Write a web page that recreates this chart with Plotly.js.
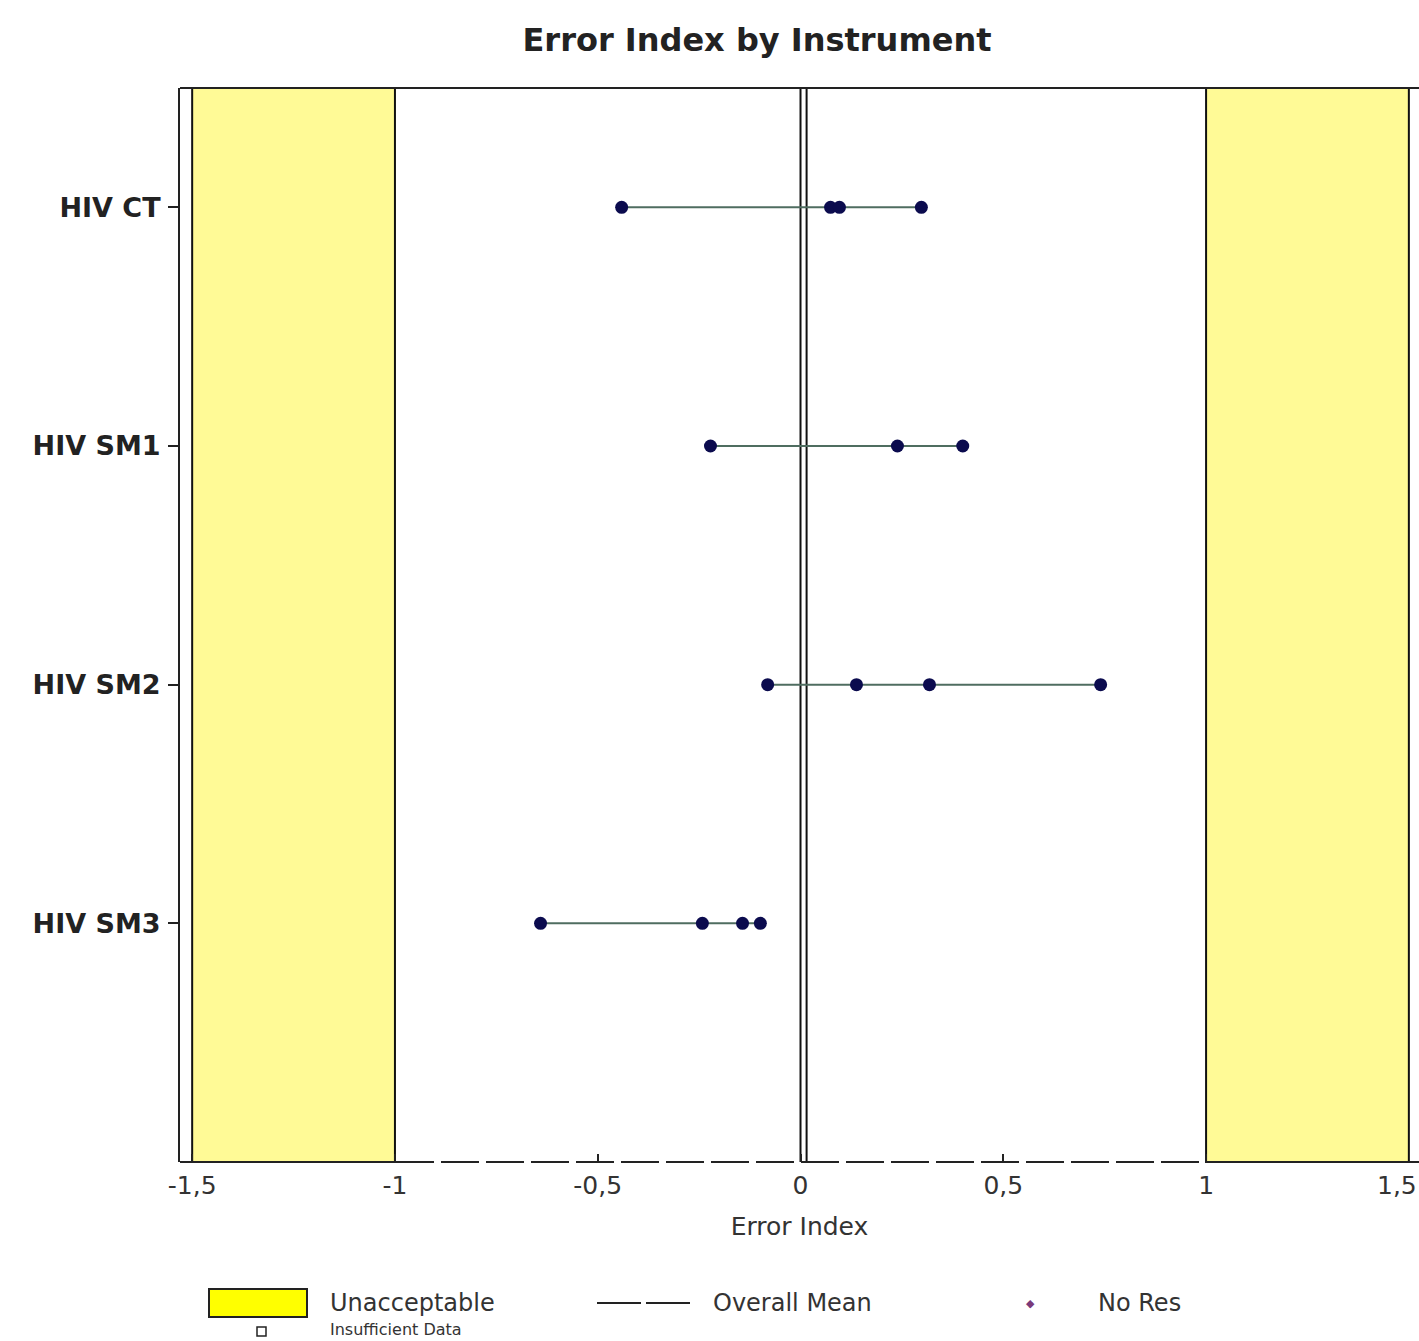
<!DOCTYPE html>
<html>
<head>
<meta charset="utf-8">
<script src="https://cdn.plot.ly/plotly-3.0.1.min.js"></script>
<style>
  html, body { margin: 0; padding: 0; background: #ffffff; }
  #chart { width: 1419px; height: 1341px; }
</style>
</head>
<body>
<div id="chart"></div>
<script>
// ---- Data ----
const instruments = ["HIV CT", "HIV SM1", "HIV SM2", "HIV SM3"];
const hivCT  = [-0.441, 0.074, 0.096, 0.298];
const hivSM1 = [-0.222, 0.239, 0.400];
const hivSM2 = [-0.081, 0.138, 0.318, 0.740];
const hivSM3 = [-0.641, -0.242, -0.143, -0.099];
const seriesValues = [hivCT, hivSM1, hivSM2, hivSM3];
const overallMean = 0.015;
const unacceptableLow = [-1.5, -1.0];
const unacceptableHigh = [1.0, 1.5];
const xTickVals = [-1.5, -1, -0.5, 0, 0.5, 1];
const xTickText = ["-1,5", "-1", "-0,5", "0", "0,5", "1"];
const xEdgeTickText = "1,5";
const legendLabels = ["Unacceptable", "Overall Mean", "No Res", "Insufficient Data"];

// ---- Layout helpers ----
const W = 1419, H = 1341;
const M = { l: 180, r: 0, t: 88, b: 179 };
const PW = W - M.l - M.r, PH = H - M.t - M.b;
const px = x => (x - M.l) / PW;          // pixel -> paper x
const py = y => (M.t + PH - y) / PH;     // pixel -> paper y

const FONT = "DejaVu Sans, Liberation Sans, Arial, sans-serif";
const ROW1 = 1303;

const traces = instruments.map((name, i) => ({
  type: "scatter",
  mode: "lines+markers",
  x: seriesValues[i],
  y: seriesValues[i].map(() => name),
  line: { color: "#4f6d60", width: 2 },
  marker: { color: "#0b0b4e", size: 13 },
  showlegend: false,
  hoverinfo: "x+y"
}));

const shapes = [
  // unacceptable bands
  { type: "rect", layer: "below", xref: "x", yref: "paper",
    x0: unacceptableLow[0], x1: unacceptableLow[1], y0: 0, y1: 1,
    fillcolor: "#fffa96", line: { color: "#111", width: 2 } },
  { type: "rect", layer: "below", xref: "x", yref: "paper",
    x0: unacceptableHigh[0], x1: unacceptableHigh[1], y0: 0, y1: 1,
    fillcolor: "#fffa96", line: { color: "#111", width: 2 } },
  // zero line
  { type: "line", layer: "below", xref: "x", yref: "paper", x0: 0, x1: 0, y0: 0, y1: 1,
    line: { color: "#111", width: 2 } },
  // overall mean
  { type: "line", layer: "below", xref: "x", yref: "paper", x0: overallMean, x1: overallMean, y0: 0, y1: 1,
    line: { color: "#111", width: 2 } },
  // top border
  { type: "line", xref: "paper", yref: "paper", x0: 0, x1: 1, y0: 1, y1: 1,
    line: { color: "#222", width: 2 } },
  // bottom border: solid at the bands, dashed in the middle
  { type: "line", xref: "paper", yref: "paper", x0: 0, x1: px(396), y0: 0, y1: 0,
    line: { color: "#222", width: 2 } },
  { type: "line", xref: "paper", yref: "paper", x0: px(396), x1: px(1207), y0: 0, y1: 0,
    line: { color: "#222", width: 2, dash: "38px,7px" } },
  { type: "line", xref: "paper", yref: "paper", x0: px(1207), x1: 1, y0: 0, y1: 0,
    line: { color: "#222", width: 2 } },
  // legend: yellow box
  { type: "rect", xref: "paper", yref: "paper",
    x0: px(209), x1: px(307), y0: py(ROW1 + 14), y1: py(ROW1 - 14),
    fillcolor: "#ffff00", line: { color: "#222", width: 2 } },
  // legend: mean line
  { type: "line", xref: "paper", yref: "paper",
    x0: px(597), x1: px(693), y0: py(ROW1), y1: py(ROW1),
    line: { color: "#222", width: 2, dash: "44px,5px" } },
  // legend: insufficient data square
  { type: "rect", xref: "paper", yref: "paper",
    x0: px(257), x1: px(266), y0: py(1336), y1: py(1327),
    fillcolor: "#ffffff", line: { color: "#222", width: 1.5 } },
];

const legendFont = { family: FONT, size: 24, color: "#333" };
const annotations = [
  { text: xEdgeTickText, xref: "paper", yref: "paper", x: 1, y: py(1169),
    xanchor: "right", yanchor: "top", showarrow: false,
    font: { family: FONT, size: 25, color: "#333" } },
  { text: legendLabels[0], xref: "paper", yref: "paper", x: px(328), y: py(ROW1),
    xanchor: "left", yanchor: "middle", showarrow: false, font: legendFont },
  { text: legendLabels[1], xref: "paper", yref: "paper", x: px(711), y: py(ROW1),
    xanchor: "left", yanchor: "middle", showarrow: false, font: legendFont },
  { text: "\u25C6", xref: "paper", yref: "paper", x: px(1030), y: py(ROW1),
    xanchor: "center", yanchor: "middle", showarrow: false,
    font: { family: FONT, size: 11, color: "#7a3a7a" } },
  { text: legendLabels[2], xref: "paper", yref: "paper", x: px(1096), y: py(ROW1),
    xanchor: "left", yanchor: "middle", showarrow: false, font: legendFont },
  { text: legendLabels[3], xref: "paper", yref: "paper", x: px(328), y: py(1341),
    xanchor: "left", yanchor: "bottom", showarrow: false,
    font: { family: FONT, size: 16, color: "#333" } },
];

const layout = {
  width: W, height: H,
  margin: M,
  paper_bgcolor: "#ffffff",
  plot_bgcolor: "#ffffff",
  showlegend: false,
  title: {
    text: "<b>Error Index by Instrument</b>",
    font: { family: FONT, size: 32, color: "#222" },
    xref: "container", yref: "container",
    x: 757 / W, xanchor: "center",
    y: 1 - 40 / H, yanchor: "middle"
  },
  xaxis: {
    range: [-1.530, 1.525],
    tickvals: xTickVals,
    ticktext: xTickText,
    ticks: "inside", ticklen: 8, tickwidth: 2, tickcolor: "#222",
    showgrid: false, zeroline: false, showline: false,
    tickfont: { family: FONT, size: 25, color: "#333" },
    ticklabelstandoff: 6,
    title: { text: "Error Index", standoff: 18,
             font: { family: FONT, size: 25, color: "#333" } },
    fixedrange: true
  },
  yaxis: {
    type: "category",
    categoryorder: "array",
    categoryarray: instruments,
    range: [4.0, -0.5],
    ticks: "outside", ticklen: 10, tickwidth: 2, tickcolor: "#222",
    showgrid: false, zeroline: false,
    showline: true, linecolor: "#222", linewidth: 2,
    tickfont: { family: FONT, size: 27, color: "#222", weight: "bold" },
    ticklabelstandoff: 2,
    fixedrange: true
  },
  shapes: shapes,
  annotations: annotations
};

Plotly.newPlot("chart", traces, layout, { displayModeBar: false, staticPlot: true });
</script>
</body>
</html>
